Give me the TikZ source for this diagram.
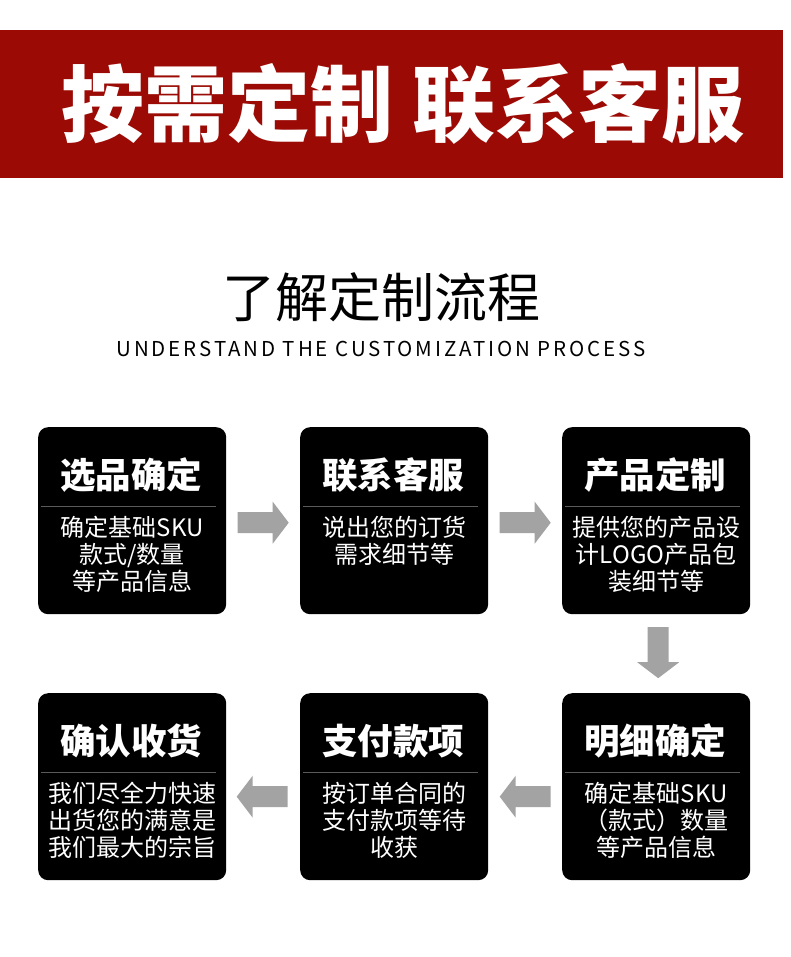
\documentclass[tikz,border=0pt]{standalone}
\usepackage{fontspec}
\setmainfont{Noto Sans CJK SC}
\usetikzlibrary{calc}
\definecolor{bannerred}{RGB}{155,10,4}
\definecolor{arrowgray}{RGB}{163,163,163}
\definecolor{sepgray}{RGB}{90,90,90}
\tikzset{
  card/.style={fill=black, rounded corners=10pt, minimum width=188pt, minimum height=187pt, inner sep=0pt},
  cardtitle/.style={text=white, inner sep=0pt, font=\bfseries\fontsize{35.5}{35.5}\selectfont},
  cardbody/.style={text=white, inner sep=0pt, align=center, font=\fontsize{24}{27}\selectfont},
  sepline/.style={draw=sepgray, line width=0.8pt},
  flowarrow/.style={fill=arrowgray, draw=none}
}
\newcommand{\card}[5]{% name, x, y(top), title, body
  \node[card, anchor=north west] (#1) at (#2,#3) {};
  \node[cardtitle] (#1t) at ($(#1.north)+(-1,48)$) {#4};
  \draw[sepline] ($(#1.north west)+(3,79)$) -- ($(#1.north east)+(-10,79)$);
  \node[cardbody] (#1b) at ($(#1.north)+(0,127)$) {#5};
}
% name, centre, rotation
\newcommand{\flowarr}[3]{%
  \coordinate (#1) at #2;
  \fill[flowarrow, shift={(#1)}, rotate=#3]
    (-25.5,-10.5) -- (9.5,-10.5) -- (9.5,-21) -- (25.5,0) -- (9.5,21) -- (9.5,10.5) -- (-25.5,10.5) -- cycle;
}
\begin{document}
\begin{tikzpicture}[x=1pt,y=-1pt]
\useasboundingbox[fill=white] (0,0) rectangle (790,957);
% banner
\node[fill=bannerred, minimum width=783pt, minimum height=148pt, inner sep=0pt, anchor=north west] (banner) at (0,30) {};
\node[text=white, font=\bfseries\fontsize{83}{83}\selectfont, inner sep=0pt] (bannertext) at (403,104) {按需定制\hspace{20pt}联系客服};
% headings
\node[font=\fontsize{53}{53}\selectfont, inner sep=0pt] (title) at (381,297) {了解定制流程};
\node[font=\fontsize{20.5}{20.5}\selectfont\addfontfeatures{LetterSpace=14}, inner sep=0pt] (subtitle) at (381,349) {UNDERSTAND THE CUSTOMIZATION PROCESS};
% cards
\card{c1}{38}{427}{选品确定}{确定基础SKU\\款式/数量\\等产品信息}
\card{c2}{300}{427}{联系客服}{说出您的订货\\需求细节等\\\phantom{等}}
\card{c3}{562}{427}{产品定制}{提供您的产品设\\计LOGO产品包\\装细节等}
\card{c4}{562}{693}{明细确定}{确定基础SKU\\（款式）数量\\等产品信息}
\card{c5}{300}{693}{支付款项}{按订单合同的\\支付款项等待\\收获}
\card{c6}{38}{693}{确认收货}{我们尽全力快速\\出货您的满意是\\我们最大的宗旨}
% arrows
\flowarr{a12}{($($(c1.east)!0.5!(c2.west)$)+(0,2)$)}{0}
\flowarr{a23}{($($(c2.east)!0.5!(c3.west)$)+(0,2)$)}{0}
\flowarr{a34}{($($(c3.south)!0.5!(c4.north)$)+(2,-1)$)}{-90}
\flowarr{a45}{($($(c4.west)!0.5!(c5.east)$)+(0,10)$)}{180}
\flowarr{a56}{($($(c5.west)!0.5!(c6.east)$)+(-1,10)$)}{180}
\end{tikzpicture}
\end{document}
